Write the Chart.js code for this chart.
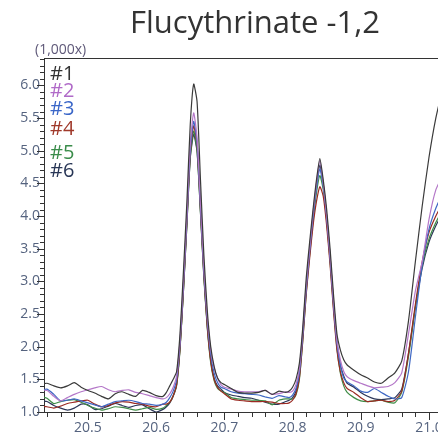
<!DOCTYPE html>
<html><head><meta charset="utf-8">
<script src="https://cdn.jsdelivr.net/npm/chart.js@4.4.1/dist/chart.umd.min.js"></script>
<style>html,body{margin:0;padding:0;background:#fff;overflow:hidden}</style>
</head><body>
<canvas id="c" width="438" height="439"></canvas>
<script>
const chartTitle = "Flucythrinate -1,2";
const yUnitLabel = "(1,000x)";
const seriesNames = ["#1", "#2", "#3", "#4", "#5", "#6"];
const seriesColors = ["#3a3a3a", "#b477c8", "#3f68c4", "#9a2a22", "#3e8c46", "#2c3658"];
const legendColors = ["#333333", "#b06ac8", "#3a66c8", "#a0392a", "#3a8c4a", "#283656"];
const xTickLabels = [20.5, 20.6, 20.7, 20.8, 20.9, 21.0];
const yTickLabels = [1.0, 1.5, 2.0, 2.5, 3.0, 3.5, 4.0, 4.5, 5.0, 5.5, 6.0];

const times = [
  20.43, 20.44, 20.45, 20.46, 20.47, 20.48, 20.49, 20.50, 20.51, 20.52, 20.53, 20.54, 20.55, 20.56, 20.57, 20.58, 20.59, 20.60, 20.61,
  20.615, 20.62, 20.625, 20.63, 20.635, 20.64, 20.645, 20.65, 20.655, 20.66, 20.665, 20.67, 20.675, 20.68, 20.685, 20.69, 20.695,
  20.70, 20.71, 20.72, 20.73, 20.74, 20.75, 20.76, 20.77, 20.78, 20.79,
  20.795, 20.80, 20.805, 20.81, 20.815, 20.82, 20.825, 20.83, 20.835, 20.84, 20.845, 20.85, 20.855, 20.86, 20.865, 20.87, 20.875, 20.88,
  20.89, 20.90, 20.91, 20.92, 20.93, 20.94, 20.95, 20.96, 20.97, 20.98, 20.99, 21.00, 21.01, 21.02
];

const s1 = [
  1.42, 1.44, 1.40, 1.37, 1.40, 1.45, 1.38, 1.33, 1.29, 1.24, 1.20, 1.28, 1.31, 1.27, 1.24, 1.33, 1.30, 1.25, 1.24,
  1.30, 1.40, 1.50, 1.62, 2.20, 3.15, 4.20, 5.40, 6.02, 5.75, 4.55, 3.40, 2.55, 2.00, 1.70, 1.52, 1.45,
  1.42, 1.36, 1.30, 1.29, 1.29, 1.30, 1.33, 1.27, 1.32, 1.30,
  1.32, 1.38, 1.50, 1.75, 2.30, 3.05, 3.60, 4.10, 4.55, 4.88, 4.55, 4.10, 3.50, 2.80, 2.20, 1.95, 1.80, 1.72,
  1.64, 1.57, 1.52, 1.46, 1.44, 1.52, 1.60, 1.78, 2.40, 3.30, 4.15, 4.90, 5.50, 5.95
];
const s2 = [
  1.33, 1.33, 1.24, 1.17, 1.22, 1.27, 1.31, 1.34, 1.37, 1.39, 1.34, 1.31, 1.33, 1.34, 1.30, 1.28, 1.25, 1.22, 1.20,
  1.22, 1.28, 1.38, 1.55, 2.10, 3.00, 4.00, 5.10, 5.58, 5.20, 4.20, 3.20, 2.45, 1.95, 1.68, 1.52, 1.42,
  1.38, 1.35, 1.32, 1.31, 1.31, 1.31, 1.33, 1.27, 1.28, 1.31,
  1.30, 1.32, 1.42, 1.66, 2.25, 2.95, 3.50, 4.05, 4.50, 4.85, 4.50, 4.00, 3.40, 2.70, 2.10, 1.80, 1.62, 1.54,
  1.48, 1.44, 1.40, 1.37, 1.38, 1.39, 1.45, 1.60, 2.20, 2.85, 3.30, 3.95, 4.40, 4.62
];
const s3 = [
  1.33, 1.35, 1.27, 1.17, 1.18, 1.20, 1.17, 1.14, 1.11, 1.08, 1.12, 1.16, 1.17, 1.18, 1.16, 1.13, 1.12, 1.10, 1.12,
  1.15, 1.22, 1.32, 1.50, 2.05, 2.95, 3.95, 5.00, 5.45, 5.12, 4.15, 3.15, 2.40, 1.88, 1.60, 1.45, 1.38,
  1.36, 1.31, 1.29, 1.28, 1.27, 1.26, 1.23, 1.21, 1.25, 1.23,
  1.22, 1.26, 1.36, 1.60, 2.18, 2.88, 3.45, 3.98, 4.42, 4.72, 4.45, 3.98, 3.35, 2.65, 2.05, 1.72, 1.52, 1.46,
  1.40, 1.32, 1.30, 1.36, 1.30, 1.24, 1.20, 1.22, 1.62, 2.45, 3.25, 3.80, 4.12, 4.35
];
const s4 = [
  1.09, 1.08, 1.06, 1.09, 1.13, 1.15, 1.17, 1.18, 1.12, 1.08, 1.10, 1.14, 1.16, 1.15, 1.13, 1.12, 1.09, 1.08, 1.12,
  1.12, 1.15, 1.25, 1.42, 1.98, 2.88, 3.90, 4.95, 5.38, 5.08, 4.10, 3.10, 2.30, 1.78, 1.50, 1.38, 1.32,
  1.28, 1.20, 1.18, 1.17, 1.16, 1.16, 1.16, 1.15, 1.13, 1.13,
  1.14, 1.18, 1.28, 1.52, 2.10, 2.80, 3.35, 3.85, 4.22, 4.45, 4.30, 3.85, 3.25, 2.55, 1.95, 1.62, 1.45, 1.36,
  1.30, 1.22, 1.16, 1.17, 1.18, 1.16, 1.18, 1.32, 1.90, 2.65, 3.30, 3.75, 4.00, 4.20
];
const s5 = [
  1.25, 1.21, 1.13, 1.16, 1.18, 1.19, 1.15, 1.10, 1.06, 1.03, 1.05, 1.08, 1.07, 1.05, 1.03, 1.05, 1.07, 1.04, 1.06,
  1.10, 1.15, 1.25, 1.40, 1.95, 2.85, 3.85, 4.90, 5.30, 5.00, 4.05, 3.05, 2.28, 1.75, 1.48, 1.36, 1.32,
  1.30, 1.22, 1.20, 1.19, 1.18, 1.18, 1.17, 1.11, 1.18, 1.20,
  1.20, 1.20, 1.26, 1.50, 2.10, 2.82, 3.40, 3.92, 4.35, 4.62, 4.40, 3.92, 3.30, 2.60, 1.98, 1.60, 1.40, 1.30,
  1.22, 1.17, 1.16, 1.17, 1.18, 1.15, 1.14, 1.30, 1.85, 2.60, 3.25, 3.65, 3.90, 4.10
];
const s6 = [
  1.17, 1.16, 1.10, 1.06, 1.03, 1.06, 1.12, 1.11, 1.04, 1.05, 1.09, 1.13, 1.10, 1.07, 1.10, 1.11, 1.05, 1.00, 1.04,
  1.08, 1.14, 1.24, 1.42, 1.98, 2.85, 3.85, 4.88, 5.25, 4.98, 4.05, 3.08, 2.32, 1.80, 1.52, 1.40, 1.35,
  1.30, 1.26, 1.24, 1.22, 1.21, 1.18, 1.15, 1.12, 1.12, 1.16,
  1.18, 1.22, 1.32, 1.58, 2.18, 2.90, 3.48, 4.00, 4.45, 4.78, 4.48, 4.00, 3.38, 2.68, 2.08, 1.72, 1.55, 1.44,
  1.38, 1.30, 1.24, 1.20, 1.19, 1.20, 1.22, 1.35, 1.90, 2.60, 3.20, 3.60, 3.85, 4.05
];
const seriesValues = [s1, s2, s3, s4, s5, s6];

const FONT = "'Open Sans', 'Noto Sans', sans-serif";
const labelColor = "#55637f";
const axisColor = "#333333";

const deco = {
  id: 'deco',
  afterDraw(chart) {
    const c = chart.ctx, a = chart.chartArea;
    const xs = chart.scales.x, ys = chart.scales.y;
    c.save();
    c.strokeStyle = axisColor; c.lineWidth = 1;
    c.beginPath(); c.moveTo(a.left, Math.round(a.top) + 0.5); c.lineTo(a.right, Math.round(a.top) + 0.5); c.stroke();
    c.beginPath();
    for (let k = 1022; k <= 1050; k++) {
      const v = k / 50;
      const px = Math.round(xs.getPixelForValue(v)) + 0.5;
      const len = (k % 5 === 0) ? 8 : 5;
      c.moveTo(px, a.bottom); c.lineTo(px, a.bottom + len);
    }
    for (let k = 10; k <= 64; k++) {
      const v = k / 10;
      const py = Math.round(ys.getPixelForValue(v)) + 0.5;
      const len = (k % 5 === 0) ? 7 : 4;
      c.moveTo(a.left, py); c.lineTo(a.left - len, py);
    }
    c.stroke();
    c.fillStyle = "#333333";
    c.font = "31px " + FONT;
    c.textAlign = "center"; c.textBaseline = "alphabetic";
    c.fillText(chartTitle, 255, 33);
    c.fillStyle = "#5e5878";
    c.font = "14px " + FONT;
    c.textAlign = "left";
    c.fillText(yUnitLabel, 35, 54);
    const ly = [80, 97, 115, 135, 159, 177];
    c.font = "20px " + FONT;
    seriesNames.forEach((n, i) => {
      c.fillStyle = legendColors[i];
      c.fillText(n, 50, ly[i]);
    });
    c.restore();
  }
};

new Chart(document.getElementById('c').getContext('2d'), {
  type: 'line',
  data: {
    datasets: seriesNames.map((n, i) => ({
      label: n,
      data: times.map((t, j) => ({ x: t, y: seriesValues[i][j] })),
      borderColor: seriesColors[i],
      borderWidth: 1.2,
      pointRadius: 0,
      tension: 0.2,
      fill: false,
      clip: 0
    }))
  },
  options: {
    responsive: false,
    animation: false,
    devicePixelRatio: 1,
    layout: { padding: { top: 58, left: 0, right: 0, bottom: 0 } },
    plugins: { legend: { display: false }, title: { display: false }, tooltip: { enabled: false } },
    scales: {
      x: {
        type: 'linear',
        min: 20.4356,
        max: 21.0132,
        afterBuildTicks: s => { s.ticks = xTickLabels.map(v => ({ value: v })); },
        ticks: { autoSkip: false, maxRotation: 0, minRotation: 0, padding: 2, color: labelColor,
                 font: { family: FONT, size: 14 }, callback: v => Number(v).toFixed(1) },
        grid: { drawOnChartArea: false, drawTicks: true, tickLength: 6, color: 'rgba(0,0,0,0)' },
        border: { display: true, color: axisColor, width: 1 },
        afterFit: s => { s.height = 27; s.paddingLeft = 0; s.paddingRight = 0; }
      },
      y: {
        type: 'linear',
        min: 1.0,
        max: 6.42,
        afterBuildTicks: s => { s.ticks = yTickLabels.map(v => ({ value: v })); },
        ticks: { autoSkip: false, padding: 0, color: labelColor,
                 font: { family: FONT, size: 14 }, callback: v => Number(v).toFixed(1) },
        grid: { drawOnChartArea: false, drawTicks: true, tickLength: 4, color: 'rgba(0,0,0,0)' },
        border: { display: true, color: axisColor, width: 1 },
        afterFit: s => { s.width = 44; s.paddingTop = 0; s.paddingBottom = 0; }
      }
    }
  },
  plugins: [deco]
});
</script>
</body></html>
